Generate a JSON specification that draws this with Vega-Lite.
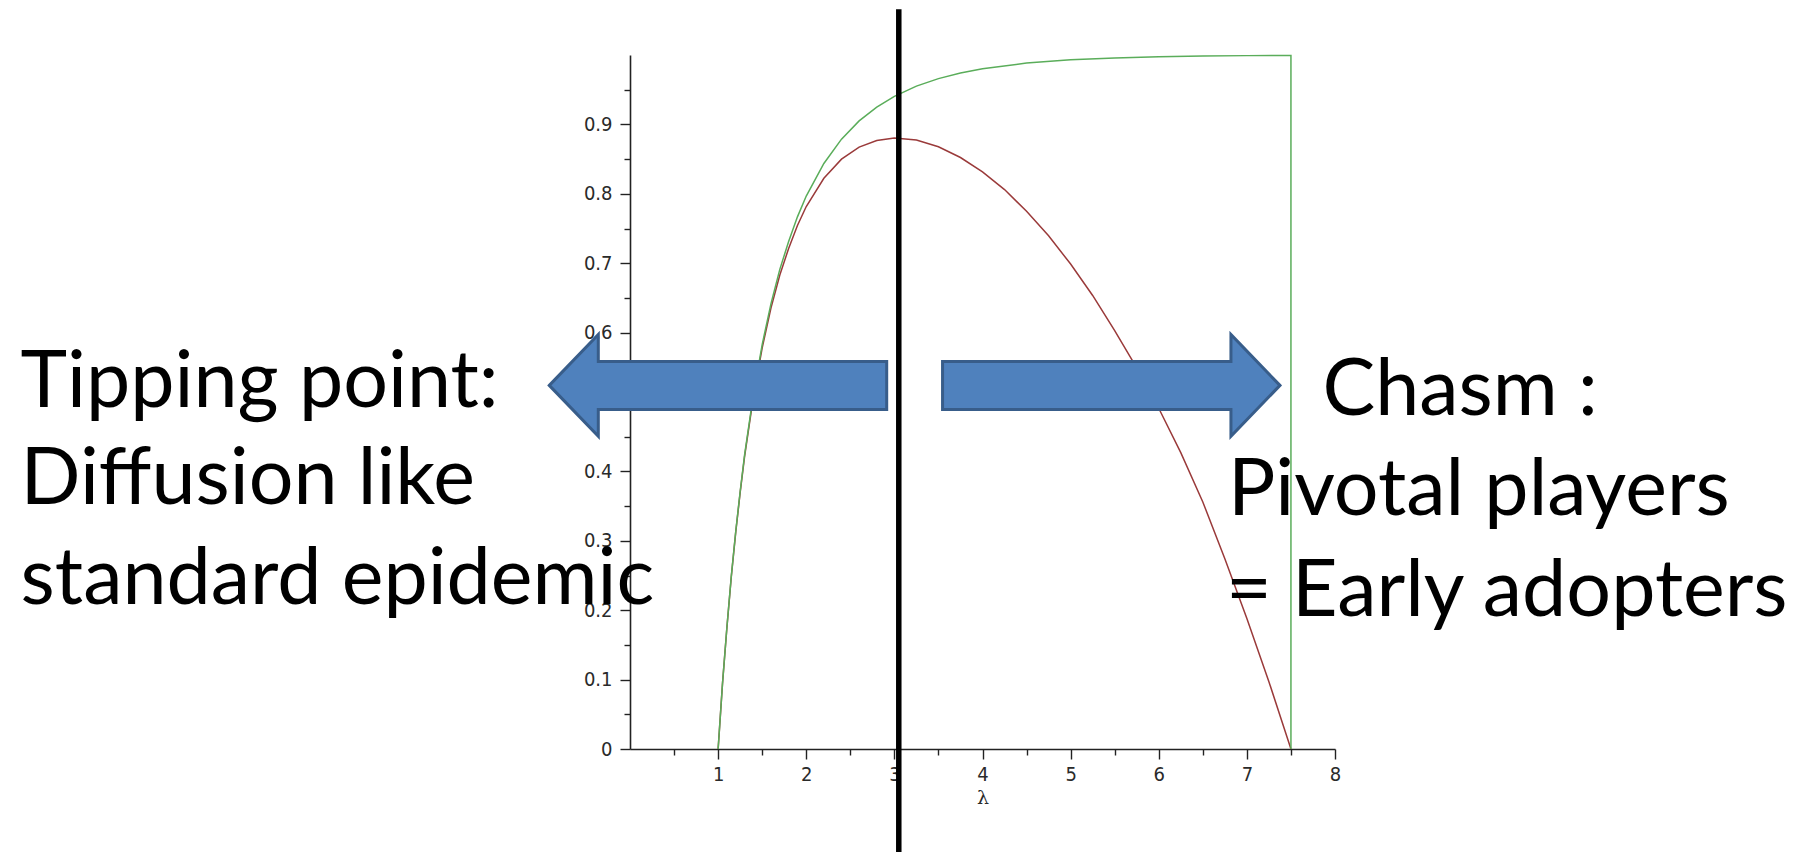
{
  "$schema": "https://vega.github.io/schema/vega-lite/v6.json",
  "width": 705,
  "height": 694,
  "autosize": {"type": "none"},
  "padding": {"left": 630, "top": 55, "right": 462, "bottom": 103},
  "background": "#ffffff",
  "config": {
    "view": {"stroke": null},
    "axis": {
      "grid": false,
      "domainColor": "#222222",
      "tickColor": "#222222",
      "domainWidth": 1.6,
      "tickWidth": 1.4,
      "labelFont": "Liberation Sans Narrow, DejaVu Sans Condensed, sans-serif",
      "labelFontSize": 20,
      "labelColor": "#2a2a2a",
      "labelFlush": false,
      "labelOverlap": false
    }
  },
  "datasets": {
    "green": [
      {"o": 0, "lam": 1.0, "v": 0},
      {"o": 1, "lam": 1.05, "v": 0.0949},
      {"o": 2, "lam": 1.1, "v": 0.1761},
      {"o": 3, "lam": 1.15, "v": 0.2499},
      {"o": 4, "lam": 1.2, "v": 0.3137},
      {"o": 5, "lam": 1.25, "v": 0.371},
      {"o": 6, "lam": 1.3, "v": 0.4235},
      {"o": 7, "lam": 1.4, "v": 0.5107},
      {"o": 8, "lam": 1.5, "v": 0.5828},
      {"o": 9, "lam": 1.6, "v": 0.6418},
      {"o": 10, "lam": 1.7, "v": 0.6911},
      {"o": 11, "lam": 1.8, "v": 0.7313},
      {"o": 12, "lam": 1.9, "v": 0.7668},
      {"o": 13, "lam": 2.0, "v": 0.7968},
      {"o": 14, "lam": 2.2, "v": 0.8437},
      {"o": 15, "lam": 2.4, "v": 0.8787},
      {"o": 16, "lam": 2.6, "v": 0.905},
      {"o": 17, "lam": 2.8, "v": 0.925},
      {"o": 18, "lam": 3.0, "v": 0.9405},
      {"o": 19, "lam": 3.25, "v": 0.9551},
      {"o": 20, "lam": 3.5, "v": 0.966},
      {"o": 21, "lam": 3.75, "v": 0.9741},
      {"o": 22, "lam": 4.0, "v": 0.9802},
      {"o": 23, "lam": 4.5, "v": 0.9883},
      {"o": 24, "lam": 5.0, "v": 0.993},
      {"o": 25, "lam": 5.5, "v": 0.9957},
      {"o": 26, "lam": 6.0, "v": 0.9975},
      {"o": 27, "lam": 6.5, "v": 0.9985},
      {"o": 28, "lam": 7.0, "v": 0.9991},
      {"o": 29, "lam": 7.5, "v": 0.9994},
      {"o": 30, "lam": 7.5, "v": 0}
    ],
    "red": [
      {"lam": 1.0, "v": 0},
      {"lam": 1.05, "v": 0.0949},
      {"lam": 1.1, "v": 0.1755},
      {"lam": 1.15, "v": 0.249},
      {"lam": 1.2, "v": 0.3124},
      {"lam": 1.25, "v": 0.3693},
      {"lam": 1.3, "v": 0.4213},
      {"lam": 1.4, "v": 0.5074},
      {"lam": 1.5, "v": 0.5781},
      {"lam": 1.6, "v": 0.6356},
      {"lam": 1.7, "v": 0.683},
      {"lam": 1.8, "v": 0.7212},
      {"lam": 1.9, "v": 0.7543},
      {"lam": 2.0, "v": 0.7817},
      {"lam": 2.2, "v": 0.8224},
      {"lam": 2.4, "v": 0.8499},
      {"lam": 2.6, "v": 0.8673},
      {"lam": 2.8, "v": 0.8769},
      {"lam": 3.0, "v": 0.8803},
      {"lam": 3.25, "v": 0.8774},
      {"lam": 3.5, "v": 0.8678},
      {"lam": 3.75, "v": 0.8523},
      {"lam": 4.0, "v": 0.8315},
      {"lam": 4.25, "v": 0.8061},
      {"lam": 4.5, "v": 0.7748},
      {"lam": 4.75, "v": 0.7394},
      {"lam": 5.0, "v": 0.6988},
      {"lam": 5.25, "v": 0.6535},
      {"lam": 5.5, "v": 0.603},
      {"lam": 5.75, "v": 0.549},
      {"lam": 6.0, "v": 0.491},
      {"lam": 6.25, "v": 0.427},
      {"lam": 6.5, "v": 0.356},
      {"lam": 6.75, "v": 0.274},
      {"lam": 7.0, "v": 0.188},
      {"lam": 7.25, "v": 0.097},
      {"lam": 7.5, "v": 0}
    ],
    "arrows": [
      {"arrow": "left", "lam": 0.9986, "v": 0.5239},
      {"arrow": "right", "lam": 5.461, "v": 0.5239}
    ],
    "divider": [
      {"lam": 3.05, "top": 1.066, "bot": -0.16}
    ],
    "notes": [
      {"lam": -6.915, "v": 0.4935, "label": "Tipping point:"},
      {"lam": -6.915, "v": 0.3527, "label": "Diffusion like"},
      {"lam": -6.915, "v": 0.2094, "label": "standard epidemic"},
      {"lam": 7.858, "v": 0.481, "label": "Chasm :"},
      {"lam": 6.786, "v": 0.3376, "label": "Pivotal players"},
      {"lam": 6.763, "v": 0.1916, "label": "= Early adopters"}
    ]
  },
  "layer": [
    {
      "data": {"name": "red"},
      "mark": {"type": "line", "color": "#9a3a3a", "strokeWidth": 1.5, "clip": false},
      "encoding": {
        "x": {
          "field": "lam", "type": "quantitative",
          "scale": {"domain": [0, 8], "nice": false, "zero": false},
          "axis": {
            "orient": "bottom",
            "values": [1, 2, 3, 4, 5, 6, 7, 8],
            "format": "d",
            "tickSize": 10,
            "labelPadding": 5,
            "title": "λ",
            "titleFont": "DejaVu Serif",
            "titleFontSize": 19,
            "titleFontWeight": "normal",
            "titleColor": "#2a2a2a",
            "titlePadding": 4
          }
        },
        "y": {
          "field": "v", "type": "quantitative",
          "scale": {"domain": [0, 1], "nice": false},
          "axis": {
            "orient": "left",
            "values": [0, 0.1, 0.2, 0.3, 0.4, 0.5, 0.6, 0.7, 0.8, 0.9],
            "format": ".1~f",
            "tickSize": 10,
            "labelPadding": 8,
            "title": null
          }
        }
      }
    },
    {
      "data": {"name": "green"},
      "mark": {"type": "line", "color": "#5aad5a", "strokeWidth": 1.5, "clip": false},
      "encoding": {
        "x": {
          "field": "lam", "type": "quantitative",
          "scale": {"domain": [0, 8], "nice": false, "zero": false},
          "axis": {
            "orient": "bottom",
            "values": [0.5, 1.5, 2.5, 3.5, 4.5, 5.5, 6.5, 7.5],
            "tickSize": 6,
            "labels": false,
            "domain": false,
            "title": null
          }
        },
        "y": {
          "field": "v", "type": "quantitative",
          "scale": {"domain": [0, 1], "nice": false},
          "axis": {
            "orient": "left",
            "values": [0.05, 0.15, 0.25, 0.35, 0.45, 0.55, 0.65, 0.75, 0.85, 0.95],
            "tickSize": 6,
            "labels": false,
            "domain": false,
            "title": null
          }
        },
        "order": {"field": "o", "type": "quantitative"}
      }
    },
    {
      "data": {"name": "arrows"},
      "mark": {"type": "point", "filled": true, "fill": "#4f81bd", "fillOpacity": 1, "opacity": 1, "stroke": "#385d8a", "strokeWidth": 3, "strokeOpacity": 1, "strokeJoin": "miter", "size": 113839, "clip": false},
      "encoding": {
        "x": {"field": "lam", "type": "quantitative", "axis": null},
        "y": {"field": "v", "type": "quantitative", "axis": null},
        "shape": {
          "field": "arrow", "type": "nominal", "legend": null,
          "scale": {
            "domain": ["left", "right"],
            "range": [
              "M-1,0L-0.7095,-0.3014L-0.7095,-0.1423L1,-0.1423L1,0.1423L-0.7095,0.1423L-0.7095,0.3014Z",
              "M1,0L0.7095,-0.3014L0.7095,-0.1423L-1,-0.1423L-1,0.1423L0.7095,0.1423L0.7095,0.3014Z"
            ]
          }
        }
      }
    },
    {
      "data": {"name": "divider"},
      "mark": {"type": "rule", "color": "#000000", "strokeWidth": 5.5, "clip": false},
      "encoding": {
        "x": {"field": "lam", "type": "quantitative", "axis": null},
        "y": {"field": "top", "type": "quantitative", "axis": null},
        "y2": {"field": "bot"}
      }
    },
    {
      "data": {"name": "notes"},
      "mark": {"type": "text", "align": "left", "baseline": "alphabetic", "font": "Lato", "fontSize": 79, "color": "#000000", "clip": false},
      "encoding": {
        "x": {"field": "lam", "type": "quantitative", "axis": null},
        "y": {"field": "v", "type": "quantitative", "axis": null},
        "text": {"field": "label", "type": "nominal"}
      }
    }
  ],
  "resolve": {"axis": {"x": "independent", "y": "independent"}}
}
